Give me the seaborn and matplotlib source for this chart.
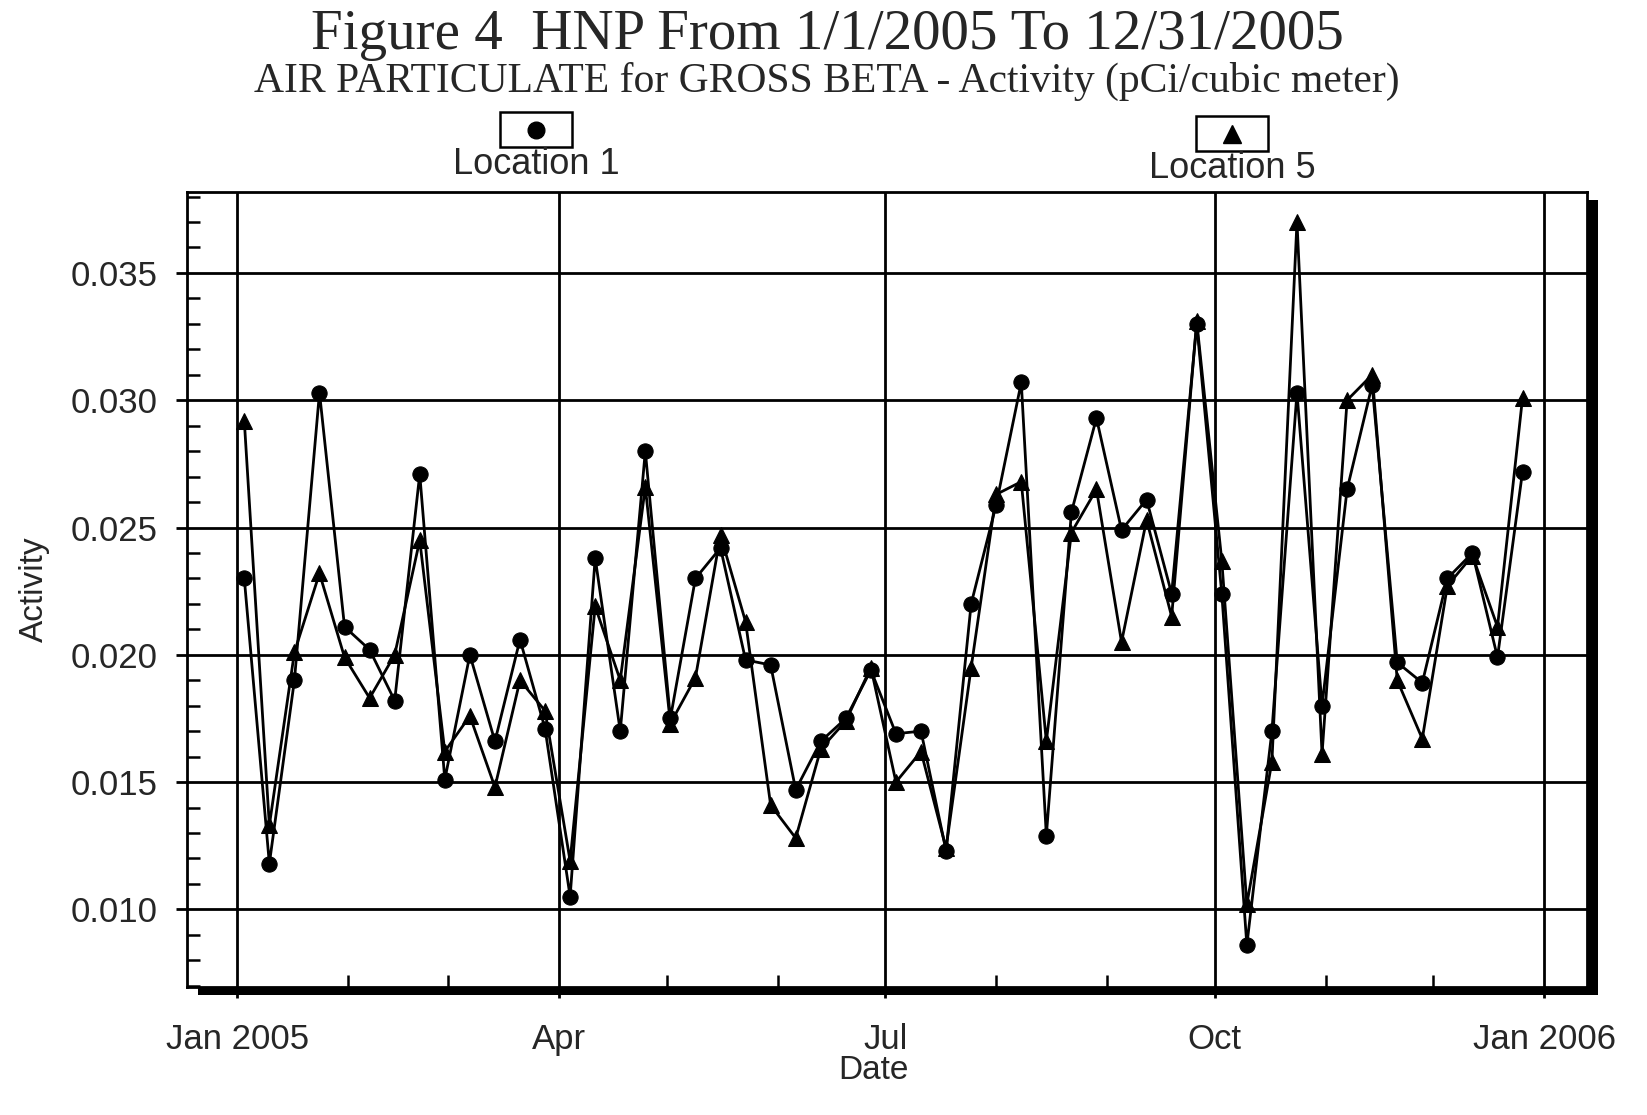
import matplotlib
matplotlib.use("Agg")
import numpy as np
import pandas as pd
import matplotlib.pyplot as plt
import matplotlib.dates as mdates
from matplotlib.ticker import MultipleLocator, FuncFormatter
from matplotlib.patches import Rectangle
from matplotlib.lines import Line2D
import seaborn as sns

# weekly sample dates
dates = [
    "2005-01-03", "2005-01-10", "2005-01-17", "2005-01-24", "2005-01-31",
    "2005-02-07", "2005-02-14", "2005-02-21", "2005-02-28", "2005-03-07",
    "2005-03-14", "2005-03-21", "2005-03-28", "2005-04-04", "2005-04-11",
    "2005-04-18", "2005-04-25", "2005-05-02", "2005-05-09", "2005-05-16",
    "2005-05-23", "2005-05-30", "2005-06-06", "2005-06-13", "2005-06-20",
    "2005-06-27", "2005-07-04", "2005-07-11", "2005-07-18", "2005-07-25",
    "2005-08-01", "2005-08-08", "2005-08-15", "2005-08-22", "2005-08-29",
    "2005-09-05", "2005-09-12", "2005-09-19", "2005-09-26", "2005-10-03",
    "2005-10-10", "2005-10-17", "2005-10-24", "2005-10-31", "2005-11-07",
    "2005-11-14", "2005-11-21", "2005-11-28", "2005-12-05", "2005-12-12",
    "2005-12-19", "2005-12-26",
]

location_1 = [
    0.0230, 0.0118, 0.0190, 0.0303, 0.0211, 0.0202, 0.0182, 0.0271, 0.0151, 0.0200,
    0.0166, 0.0206, 0.0171, 0.0105, 0.0238, 0.0170, 0.0280, 0.0175, 0.0230, 0.0242,
    0.0198, 0.0196, 0.0147, 0.0166, 0.0175, 0.0194, 0.0169, 0.0170, 0.0123, 0.0220,
    0.0259, 0.0307, 0.0129, 0.0256, 0.0293, 0.0249, 0.0261, 0.0224, 0.0330, 0.0224,
    0.0086, 0.0170, 0.0303, 0.0180, 0.0265, 0.0306, 0.0197, 0.0189, 0.0230, 0.0240,
    0.0199, 0.0272,
]

location_5 = [
    0.0292, 0.0133, 0.0201, 0.0232, 0.0199, 0.0183, 0.0200, 0.0245, 0.0162, 0.0176,
    0.0148, 0.0190, 0.0178, 0.0119, 0.0219, 0.0190, 0.0266, 0.0173, 0.0191, 0.0247,
    0.0213, 0.0141, 0.0128, 0.0163, 0.0174, 0.0195, 0.0150, 0.0162, 0.0124, 0.0195,
    0.0263, 0.0268, 0.0166, 0.0248, 0.0265, 0.0205, 0.0253, 0.0215, 0.0331, 0.0237,
    0.0102, 0.0158, 0.0370, 0.0161, 0.0300, 0.0310, 0.0190, 0.0167, 0.0227, 0.0239,
    0.0211, 0.0301,
]

df = pd.DataFrame({"Date": pd.to_datetime(dates),
                   "Location 1": location_1,
                   "Location 5": location_5})

sns.set_theme(style="white")
plt.rcParams["font.family"] = ["Liberation Sans", "DejaVu Sans"]

fig = plt.figure(figsize=(16.47, 11.15), dpi=100)
L, R, T, B = 187, 1587, 192, 987  # axes box in pixels
W, H = 1647, 1115
ax = fig.add_axes([L / W, 1 - B / H, (R - L) / W, (B - T) / H])
ax.set_facecolor("white")
ax.set_zorder(1)

# drop shadow behind the plot frame
fig.add_artist(Rectangle(((L + 11) / W, 1 - (B + 8) / H), (R - L) / W, (B - T) / H,
                         transform=fig.transFigure, facecolor="black", edgecolor="none", zorder=0))

sns.lineplot(data=df, x="Date", y="Location 1", ax=ax, color="black", lw=2,
             marker="o", markersize=11, markeredgecolor="black", zorder=3)
sns.lineplot(data=df, x="Date", y="Location 5", ax=ax, color="black", lw=2,
             marker="^", markersize=12, markeredgecolor="black", zorder=3)

ax.set_xlim(pd.Timestamp("2004-12-18"), pd.Timestamp("2006-01-13"))
ax.set_ylim(0.00695, 0.03818)

ax.xaxis.set_major_locator(mdates.MonthLocator(bymonth=[1, 4, 7, 10]))
ax.xaxis.set_minor_locator(mdates.MonthLocator())


def month_label(x, pos):
    d = mdates.num2date(x)
    return d.strftime("%b %Y") if d.month == 1 else d.strftime("%b")


ax.xaxis.set_major_formatter(FuncFormatter(month_label))
ax.yaxis.set_major_locator(MultipleLocator(0.005))
ax.yaxis.set_minor_locator(MultipleLocator(0.001))
ax.yaxis.set_major_formatter(FuncFormatter(lambda v, p: f"{v:.3f}"))

ax.grid(True, which="major", color="black", lw=2)
ax.tick_params(which="major", direction="out", length=8, width=2, color="black",
               labelsize=25, bottom=True, left=True)
ax.tick_params(axis="x", which="major", pad=18)
ax.tick_params(axis="y", which="major", pad=13)
ax.tick_params(which="minor", direction="in", length=9, width=1.8, color="black",
               bottom=True, left=True)
for s in ax.spines.values():
    s.set_color("black")
    s.set_linewidth(2)

ax.set_ylabel("Activity", fontsize=24)
ax.yaxis.set_label_coords(-0.098, 0.5)
ax.set_xlabel("Date", fontsize=24)
ax.xaxis.set_label_coords(0.49, -0.085)

# titles
fig.text(827 / W, 1 - 35 / H, "Figure 4  HNP From 1/1/2005 To 12/31/2005",
         ha="center", va="center", family=["Liberation Serif", "DejaVu Serif"], size=41)
fig.text(827 / W, 1 - 81 / H, "AIR PARTICULATE for GROSS BETA - Activity (pCi/cubic meter)",
         ha="center", va="center", family=["Liberation Serif", "DejaVu Serif"], size=30)

# legend: boxed marker with the label underneath
for bx, by, mk, ms, label in [(500, 112, "o", 12, "Location 1"), (1196, 116, "^", 13, "Location 5")]:
    fig.add_artist(Rectangle((bx / W, 1 - (by + 35) / H), 72 / W, 35 / H,
                             transform=fig.transFigure, facecolor="white",
                             edgecolor="black", lw=1.8))
    fig.add_artist(Line2D([(bx + 36) / W], [1 - (by + 17.5) / H], marker=mk, markersize=ms,
                          color="black", transform=fig.transFigure))
    fig.text((bx + 36) / W, 1 - (by + 53) / H, label, ha="center", va="center", size=26)

plt.savefig("out.png", dpi=100)
